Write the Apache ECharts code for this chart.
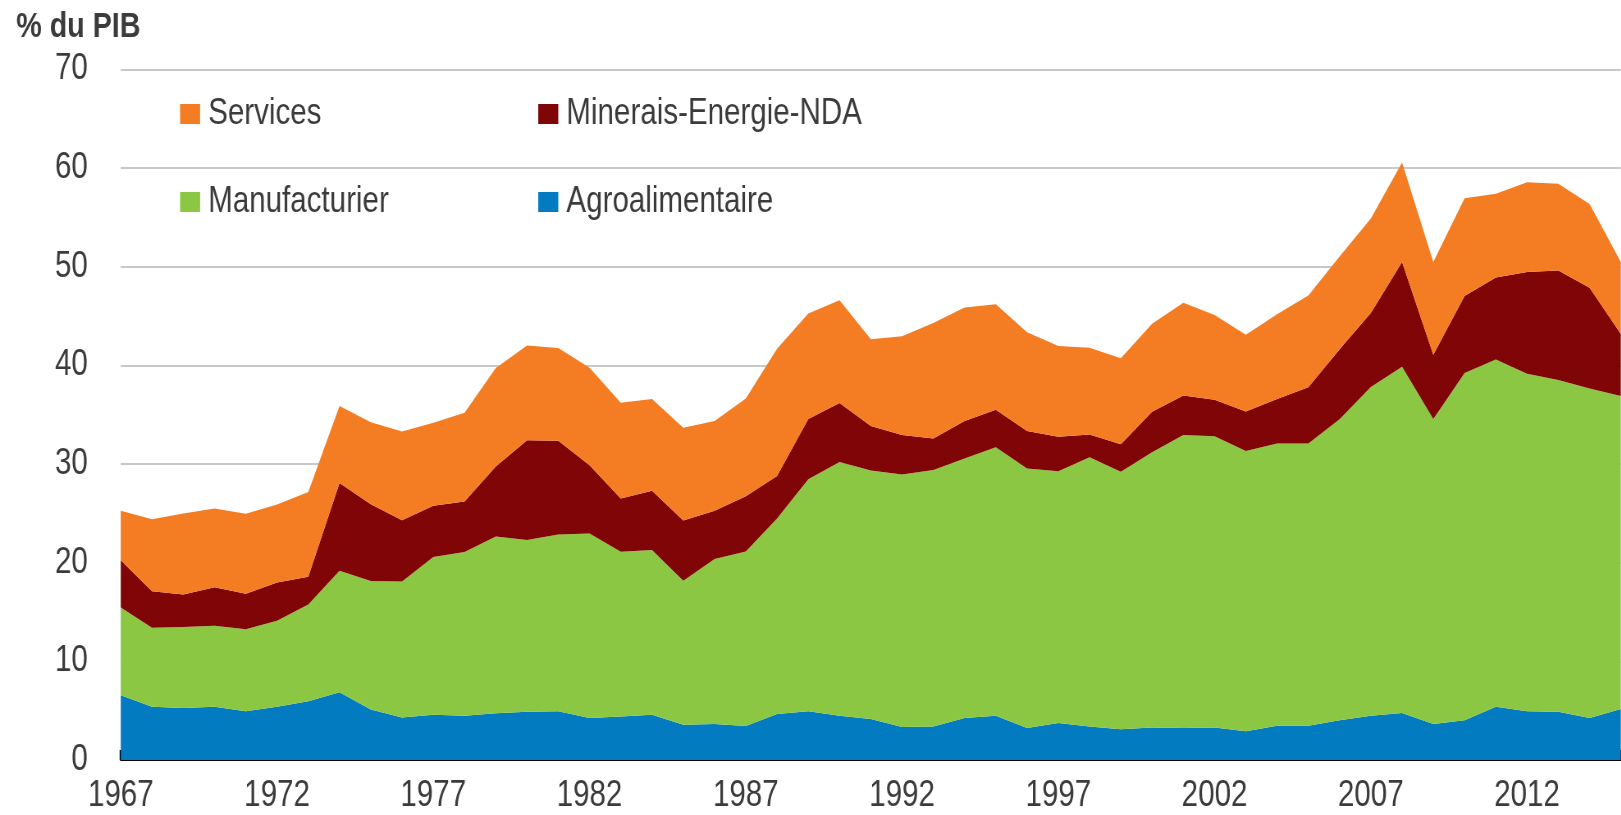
<!DOCTYPE html>
<html>
<head>
<meta charset="utf-8">
<script src="https://cdn.jsdelivr.net/npm/echarts@6/dist/echarts.min.js"></script>
<style>
html,body{margin:0;padding:0;background:#fff;overflow:hidden;}
#wrap{width:1621px;height:815px;overflow:hidden;}
#chart{height:815px;transform-origin:0 0;}
</style>
</head>
<body>
<div id="wrap"><div id="chart"></div></div>
<script>
const years = [];
for (let y = 1967; y <= 2015; y++) years.push(String(y));

const agroalimentaire = [6.55,5.4,5.27,5.4,4.95,5.4,5.96,6.87,5.13,4.3,4.58,4.49,4.74,4.9,4.95,4.26,4.4,4.58,3.57,3.66,3.44,4.67,4.95,4.49,4.15,3.34,3.39,4.26,4.49,3.25,3.76,3.39,3.11,3.3,3.25,3.3,2.91,3.48,3.48,4.03,4.49,4.76,3.66,4.03,5.4,4.95,4.9,4.26,5.18];
const manufacturier = [8.9,8.0,8.2,8.2,8.3,8.7,9.8,12.3,13.0,13.8,16.0,16.6,17.9,17.4,17.9,18.7,16.7,16.7,14.6,16.7,17.7,19.8,23.5,25.7,25.2,25.6,26.0,26.3,27.2,26.3,25.5,27.3,26.1,27.9,29.7,29.5,28.4,28.6,28.6,30.5,33.3,35.1,30.9,35.2,35.2,34.2,33.6,33.4,31.7];
const minerais = [4.8,3.7,3.3,3.9,3.6,3.9,2.8,8.9,7.8,6.2,5.2,5.1,7.1,10.1,9.5,6.9,5.4,6.0,6.1,4.9,5.6,4.3,6.1,6.0,4.5,4.0,3.2,3.8,3.8,3.8,3.5,2.3,2.8,4.1,4.0,3.7,4.0,4.5,5.7,7.1,7.5,10.6,6.5,7.8,8.3,10.3,11.1,10.2,6.3];
const services = [5.0,7.3,8.2,8.0,8.1,7.9,8.6,7.8,8.3,9.0,8.4,9.0,10.0,9.6,9.4,9.9,9.7,9.3,9.4,9.1,9.9,12.9,10.7,10.4,8.8,10.0,11.7,11.5,10.7,10.0,9.2,8.8,8.7,8.9,9.4,8.6,7.8,8.6,9.3,9.4,9.6,10.1,9.4,9.9,8.5,9.1,8.8,8.5,7.3];

const yTicks = [0, 10, 20, 30, 40, 50, 60, 70];
const seriesNames = ['Agroalimentaire', 'Manufacturier', 'Minerais-Energie-NDA', 'Services'];
const seriesColors = ['#037bc1', '#8cc743', '#7f0506', '#f47d23'];
const seriesData = [agroalimentaire, manufacturier, minerais, services];

// Arial Narrow is not installed: draw with Liberation Sans and condense horizontally.
const SX = 0.82;
const W = 1621 / SX;
const el = document.getElementById('chart');
el.style.width = W + 'px';
el.style.transform = 'scaleX(' + SX + ')';
const h = v => v / SX; // convert target horizontal pixels to pre-scale pixels

const FONT = '"Liberation Sans", Arial, sans-serif';
const TXT = '#3b3b3b';

function legendAt(name, left, top) {
  return {
    data: [name], left: h(left), top: top, orient: 'horizontal',
    icon: 'rect', itemWidth: h(20), itemHeight: 20, padding: 0,
    selectedMode: false,
    textStyle: { fontFamily: FONT, fontSize: 36, color: TXT, padding: [0, 0, 0, h(4)] }
  };
}

const chart = echarts.init(el, null, { renderer: 'canvas', width: W, height: 815 });
chart.setOption({
  animation: false,
  backgroundColor: '#ffffff',
  title: {
    text: '% du PIB', left: h(12), top: 5,
    textStyle: { fontFamily: FONT, fontSize: 35, fontWeight: 'bold', color: TXT }
  },
  legend: [
    legendAt('Services', 180, 96),
    legendAt('Minerais-Energie-NDA', 538, 96),
    legendAt('Manufacturier', 180, 184),
    legendAt('Agroalimentaire', 538, 184)
  ],
  grid: { left: h(120.7), right: h(1), top: 69.3, bottom: 55, containLabel: false },
  xAxis: {
    type: 'category', data: years, boundaryGap: false,
    axisLine: { show: true, lineStyle: { color: '#000', width: 2 } },
    axisTick: { show: true, inside: true, length: 10, interval: 0, lineStyle: { color: '#000', width: h(2) } },
    axisLabel: { interval: 4, fontFamily: FONT, fontSize: 36, color: TXT, margin: 18 },
    splitLine: { show: false }
  },
  yAxis: {
    type: 'value', min: yTicks[0], max: yTicks[yTicks.length - 1], interval: 10,
    axisLine: { show: false }, axisTick: { show: false },
    axisLabel: { fontFamily: FONT, fontSize: 36, color: TXT, margin: h(33) },
    splitLine: { show: true, lineStyle: { color: '#c8c8c8', width: 2 } }
  },
  series: seriesNames.map((n, i) => ({
    name: n, type: 'line', stack: 'total', data: seriesData[i],
    showSymbol: false, symbol: 'none',
    lineStyle: { width: 0, color: seriesColors[i] },
    itemStyle: { color: seriesColors[i] },
    areaStyle: { color: seriesColors[i], opacity: 1 },
    z: 2
  }))
});
</script>
</body>
</html>
